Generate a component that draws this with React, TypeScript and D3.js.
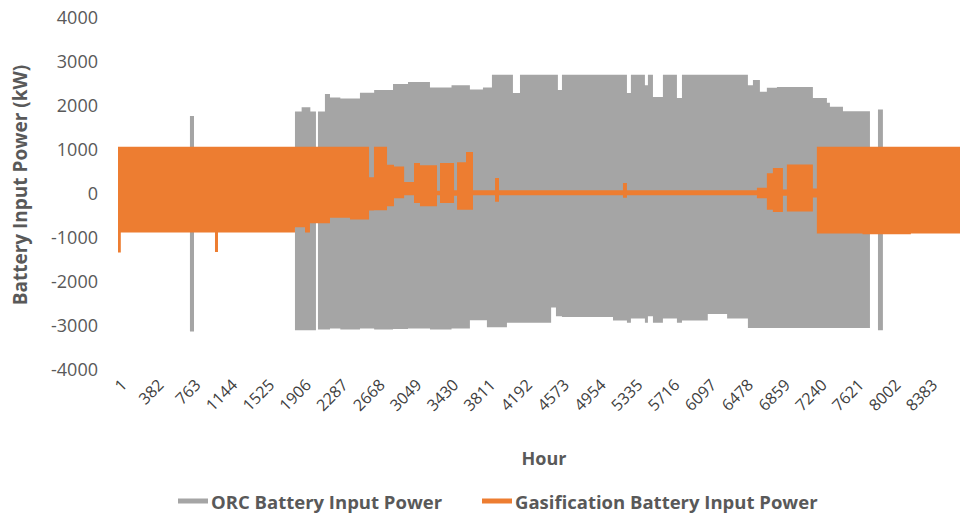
import React from "react";
import * as d3 from "d3";

// Hour ticks shown on the category axis
const hourTicks = [1, 382, 763, 1144, 1525, 1906, 2287, 2668, 3049, 3430, 3811, 4192, 4573, 4954, 5335, 5716, 6097, 6478, 6859, 7240, 7621, 8002, 8383];
const yTicks = [-4000, -3000, -2000, -1000, 0, 1000, 2000, 3000, 4000];

// ORC series: hourly envelope (segment start hour, max, min); null = no visible data
const orcFrom = [1, 745, 787, 1831, 1900, 1990, 2048, 2069, 2141, 2193, 2300, 2503, 2650, 2845, 3000, 3227, 3450, 3640, 3775, 3816, 3868, 4023, 4085, 4158, 4480, 4530, 4550, 4592, 5120, 5264, 5305, 5450, 5481, 5533, 5636, 5781, 5833, 6100, 6300, 6515, 6567, 6639, 6711, 6815, 7187, 7332, 7363, 7498, 7777, 7860, 7911, 8760];
const orcMax: (number | null)[] = [null, 1750, null, 1850, 1950, 1850, null, 1850, 2250, 2170, 2150, 2280, 2340, 2480, 2520, 2400, 2450, 2350, 2400, 2400, 2690, 2690, 2270, 2690, 2690, 2690, 2340, 2690, 2690, 2270, 2690, 2450, 2690, 2180, 2690, 2160, 2690, 2690, 2690, 2450, 2570, 2300, 2390, 2410, 2160, 2050, 1960, 1860, null, 1900, null, null];
const orcMin: (number | null)[] = [null, -3150, null, -3120, -3120, -3120, null, -3100, -3100, -3080, -3100, -3080, -3100, -3090, -3080, -3100, -3080, -2890, -2890, -3050, -3050, -2950, -2950, -2950, -2600, -2800, -2800, -2820, -2900, -2950, -2850, -2950, -2800, -2950, -2850, -2950, -2900, -2750, -2850, -3070, -3070, -3070, -3070, -3070, -3070, -3070, -3070, -3070, null, -3120, null, null];

// Gasification series envelope (segment start hour, max, min)
const gasFrom = [1, 30, 1004, 1035, 1831, 1935, 1986, 2193, 2400, 2597, 2648, 2783, 2855, 2960, 3062, 3124, 3300, 3331, 3476, 3507, 3600, 3672, 3900, 3941, 5223, 5264, 6608, 6711, 6773, 6877, 6918, 7187, 7228, 7700, 8200, 8760];
const gasMax = [1050, 1050, 1050, 1050, 1050, 1050, 1050, 1050, 1050, 360, 1050, 640, 600, 250, 680, 630, 50, 680, 60, 700, 930, 60, 340, 60, 230, 60, 120, 450, 570, 80, 650, 100, 1050, 1050, 1050, 1050];
const gasMin = [-1350, -900, -1340, -900, -780, -900, -690, -560, -600, -400, -390, -300, -120, -50, -230, -300, -50, -230, -60, -380, -380, -50, -200, -50, -110, -50, -120, -380, -430, -60, -420, -100, -920, -940, -920, -920];

const W = 960;
const H = 515;

type Pt = { h: number; max: number; min: number; ok: boolean };

function stepPoints(from: number[], maxs: (number | null)[], mins: (number | null)[]): Pt[] {
  const pts: Pt[] = [];
  for (let i = 0; i < from.length - 1; i++) {
    const mx = maxs[i];
    const mn = mins[i];
    if (mx === null || mn === null) {
      pts.push({ h: from[i], max: 0, min: 0, ok: false });
      continue;
    }
    pts.push({ h: from[i], max: mx, min: mn, ok: true });
    pts.push({ h: from[i + 1], max: mx, min: mn, ok: true });
  }
  return pts;
}

export default function App() {
  const x = d3.scaleLinear().domain([1, 8760]).range([118, 965]);
  const y = d3.scaleLinear().domain([-4000, 4000]).range([369, 17]);

  const orcPts = stepPoints(orcFrom, orcMax, orcMin);
  const gasPts = stepPoints(gasFrom, gasMax, gasMin);

  const area = d3
    .area<Pt>()
    .defined((d) => d.ok)
    .x((d) => x(d.h))
    .y0((d) => y(d.min))
    .y1((d) => y(d.max))
    .curve(d3.curveLinear);

  const font = "'Open Sans', 'DejaVu Sans', sans-serif";
  const textColor = "#595959";

  return (
    <svg width={W} height={H} style={{ position: "absolute", left: 0, top: 0, background: "#fff" }} fontFamily={font}>
      <defs>
        <clipPath id="plotClip">
          <rect x={0} y={0} width={W} height={H} />
        </clipPath>
      </defs>
      <g clipPath="url(#plotClip)">
        <path d={area(orcPts) || ""} fill="#A5A5A5" />
        <path d={area(gasPts) || ""} fill="#ED7D31" />
      </g>
      {yTicks.map((t) => (
        <text key={t} x={98} y={y(t)} textAnchor="end" dominantBaseline="central" fontSize={18} fill={textColor}>
          {t}
        </text>
      ))}
      {hourTicks.map((t) => (
        <text
          key={t}
          transform={`translate(${x(t) + 10},${386}) rotate(-45)`}
          textAnchor="end"
          fontSize={16}
          fill="#404040"
        >
          {t}
        </text>
      ))}
      <text
        transform={`translate(27,${y(0) - 8}) rotate(-90)`}
        textAnchor="middle"
        fontSize={19}
        fontWeight="bold"
        fill={textColor}
      >
        Battery Input Power (kW)
      </text>
      <text x={544} y={465} textAnchor="middle" fontSize={18} fontWeight="bold" fill={textColor}>
        Hour
      </text>
      <g>
        <line x1={178} x2={208} y1={501} y2={501} stroke="#A5A5A5" strokeWidth={5} />
        <text x={211} y={501} dominantBaseline="central" fontSize={18.5} fontWeight="bold" fill={textColor}>
          ORC Battery Input Power
        </text>
        <line x1={482} x2={512} y1={501} y2={501} stroke="#ED7D31" strokeWidth={5} />
        <text x={515} y={501} dominantBaseline="central" fontSize={18.5} fontWeight="bold" fill={textColor}>
          Gasification Battery Input Power
        </text>
      </g>
    </svg>
  );
}
